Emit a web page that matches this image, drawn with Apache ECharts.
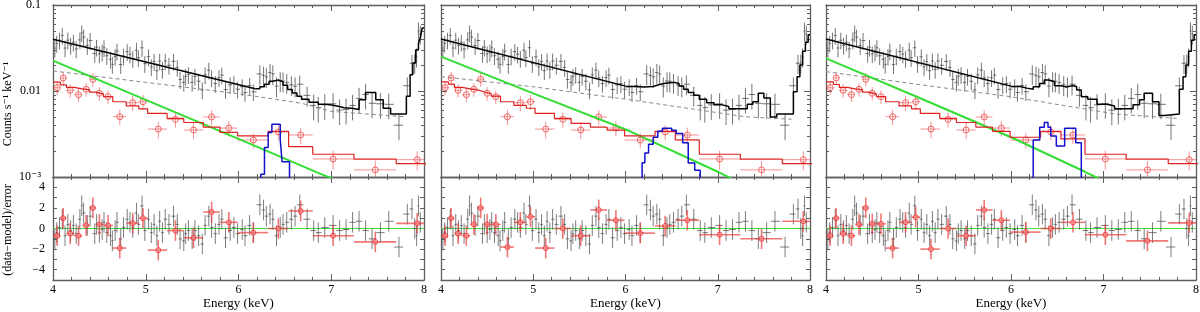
<!DOCTYPE html>
<html><head><meta charset="utf-8">
<script src="https://cdn.jsdelivr.net/npm/echarts@6/dist/echarts.min.js"></script>
<style>html,body{margin:0;padding:0;background:#fff}#c{width:1200px;height:312px}</style>
</head><body><div id="c"></div>
<script>
// ---------------- DATA ----------------
// Black data (shared by all three panels)
const blackE = [4.02,4.04,4.07,4.10,4.13,4.16,4.19,4.22,4.25,4.29,4.31,4.33,4.37,4.40,4.45,4.47,4.50,4.53,4.55,4.58,
4.62,4.64,4.67,4.69,4.73,4.76,4.80,4.83,4.86,4.90,4.92,4.96,4.99,5.03,5.06,5.09,5.12,5.15,5.18,5.21,
5.25,5.30,5.34,5.37,5.41,5.43,5.46,5.50,5.53,5.57,5.61,5.64,5.68,5.71,5.75,5.79,5.82,5.86,5.91,5.95,
5.99,6.04,6.07,6.12,6.16,6.23,6.27,6.30,6.34,6.37,6.41,6.45,6.48,6.52,6.57,6.61,6.66,6.74,6.81,6.86,
6.93,7.02,7.09,7.16,7.23,7.30,7.37,7.44,7.53,7.62,7.73,7.82,7.87,7.90,7.92,7.94,7.96];
const blackV = [0.0315,0.0358,0.0390,0.0443,0.0316,0.0390,0.0340,0.0369,0.0308,0.0393,0.0474,0.0423,0.0337,0.0387,0.0273,0.0323,0.0270,0.0282,0.0318,0.0257,
0.0234,0.0204,0.0252,0.0291,0.0203,0.0254,0.0287,0.0268,0.0239,0.0298,0.0244,0.0318,0.0208,0.0250,0.0191,0.0220,0.0172,0.0223,0.0178,0.0223,
0.0199,0.0221,0.0188,0.0136,0.0126,0.0148,0.0155,0.0126,0.0148,0.0130,0.0103,0.0154,0.0175,0.0142,0.0122,0.0143,0.0153,0.0104,0.0118,0.0122,
0.0105,0.0112,0.0096,0.0116,0.0098,0.0158,0.0152,0.0146,0.0164,0.0158,0.0114,0.0131,0.0130,0.0125,0.0118,0.0114,0.0120,0.0089,0.0068,0.0064,
0.0069,0.0071,0.0060,0.0061,0.0068,0.0082,0.0091,0.0072,0.0071,0.0070,0.0040,0.0115,0.0210,0.0212,0.0250,0.0500,0.0460];
const blackRes = [-1.0,-0.4,0.1,0.9,-0.7,0.4,-0.2,0.3,-0.5,0.9,2.2,1.5,0.3,1.2,-0.5,0.4,-0.4,-0.1,0.6,-0.4,
-0.7,-1.2,-0.2,0.6,-1.0,0.1,0.9,0.6,0.1,1.5,0.4,2.2,-0.2,0.9,-0.4,0.4,-0.7,0.7,-0.4,0.9,
0.4,1.2,0.4,-1.0,-1.2,-0.5,-0.2,-1.0,-0.2,-0.7,-1.5,0.3,1.2,0.1,-0.5,0.4,0.9,-0.9,-0.2,0.1,
-0.5,-0.1,-0.7,0.3,-0.4,2.3,1.8,1.2,1.4,0.9,-0.7,0.1,0.4,0.6,0.9,1.2,2.3,0.9,-0.2,-0.4,
0.1,0.3,-0.2,-0.1,0.6,0.7,-0.2,-1.0,-0.4,0.7,-1.8,1.4,1.9,0.0,-0.7,2.2,0.6];
// relative 1-sigma error of black points, by energy band [band start, rel err]
const blackRelErrBands = [[4.0,0.22],[6.2,0.26],[6.8,0.33],[7.8,0.25]];

// Red data (shared)
const redE = [4.045,4.11,4.185,4.275,4.357,4.43,4.50,4.594,4.72,4.86,4.97,5.135,5.32,5.515,5.71,5.896,6.16,6.43,6.67,7.02,7.475,7.927];
const redEdges = [4.0,4.08,4.145,4.23,4.315,4.395,4.465,4.545,4.645,4.79,4.925,5.02,5.23,5.41,5.62,5.80,5.99,6.32,6.54,6.80,7.245,7.70,8.15];
const redV = [0.01093,0.01416,0.01019,0.00906,0.01047,0.01368,0.0094,0.0086,0.00502,0.00731,0.00751,0.00361,0.00469,0.00352,0.00499,0.00371,0.00269,0.00334,0.00308,0.00162,0.00121,0.00159];
const redRelErr = [0.18,0.18,0.18,0.18,0.18,0.18,0.18,0.18,0.2,0.2,0.2,0.22,0.2,0.22,0.2,0.2,0.2,0.2,0.22,0.25,0.28,0.25];
const redRes1 = [-0.7,1.0,-0.5,-0.7,0.3,2.0,0.4,0.3,-1.9,0.5,1.0,-2.1,-0.2,-0.9,1.6,0.6,-0.4,0.0,1.7,-0.7,-1.3,0.5];
const redRes2 = [-0.7,1.0,-0.5,-0.7,0.4,2.0,0.4,0.4,-1.8,0.6,1.15,-1.9,0.0,-0.7,1.8,0.8,-0.45,0.25,0.8,-0.6,-1.0,0.7];
const redRes3 = [-0.7,1.0,-0.5,-0.7,0.4,2.0,0.45,0.45,-1.9,0.6,1.1,-2.0,0.0,-0.7,1.8,0.8,-0.35,0.0,0.6,-0.6,-1.2,0.55];

// Red model (value per red bin)
const redModel1 = [0.0127,0.0118,0.0110,0.0106,0.0103,0.0097,0.0092,0.0086,0.0075,0.0067,0.0062,0.0055,0.0048,0.0043,0.0038,0.0033,0.0030,0.0034,0.00225,0.00184,0.00161,0.00143];
const redModel2 = [0.0128,0.0120,0.0110,0.0106,0.0103,0.0098,0.0093,0.0087,0.0075,0.0068,0.0063,0.0055,0.0048,0.0042,0.0038,0.0035,0.0030,0.0034,0.0027,0.00184,0.00161,0.00143];
const redModel3 = [0.0128,0.0119,0.0110,0.0106,0.0103,0.0097,0.0092,0.0086,0.0075,0.0067,0.0062,0.0055,0.0048,0.0043,0.0038,0.0034,0.0029,0.0034,0.00277,0.00184,0.00161,0.00143];

// Black total model: smooth part + stepped part [E, value]
const blackModelLine1 = [[4.0,0.0399],[6.18,0.0106]];
const blackModelStep1 = [[6.18,0.0106],[6.23,0.0112],[6.28,0.0120],[6.33,0.0130],[6.37,0.0134],[6.43,0.0128],[6.48,0.0117],[6.53,0.0104],[6.58,0.0095],[6.63,0.0087],[6.68,0.0080],[6.76,0.0074],[6.86,0.0070],[6.96,0.0067],[7.06,0.0064],[7.14,0.0063],[7.22,0.0061],[7.30,0.0079],[7.37,0.0096],[7.48,0.0079],[7.56,0.0063],[7.64,0.0054],[7.81,0.0087],[7.85,0.0154],[7.88,0.0212],[7.91,0.0300],[7.94,0.0360],[7.96,0.0413],[7.98,0.0540],[8.0,0.0540]];
const blackModelLine2 = [[4.0,0.0402],[6.0,0.0114]];
const blackModelStep2 = [[6.0,0.0113],[6.1,0.0111],[6.2,0.0113],[6.3,0.0118],[6.36,0.0123],[6.43,0.0126],[6.53,0.0122],[6.58,0.0114],[6.63,0.0105],[6.68,0.0096],[6.74,0.0089],[6.80,0.0080],[6.88,0.0073],[6.96,0.0069],[7.05,0.0066],[7.12,0.0062],[7.22,0.0062],[7.32,0.0070],[7.38,0.0075],[7.44,0.0094],[7.50,0.0083],[7.57,0.0050],[7.64,0.0054],[7.82,0.0098],[7.86,0.0146],[7.89,0.0200],[7.92,0.0290],[7.95,0.0370],[7.98,0.0450],[8.0,0.0450]];
const blackModelLine3 = [[4.0,0.0402],[6.0,0.0114]];
const blackModelStep3 = [[6.0,0.0113],[6.1,0.0108],[6.17,0.0105],[6.24,0.0112],[6.31,0.0122],[6.36,0.0134],[6.41,0.0128],[6.47,0.0115],[6.54,0.0111],[6.60,0.0116],[6.67,0.0112],[6.71,0.0103],[6.76,0.0086],[6.83,0.0080],[6.93,0.0070],[7.04,0.0067],[7.12,0.0062],[7.24,0.0062],[7.32,0.0069],[7.39,0.0079],[7.44,0.0094],[7.53,0.0075],[7.60,0.0052],[7.66,0.0054],[7.82,0.0105],[7.86,0.0146],[7.89,0.0200],[7.92,0.0290],[7.95,0.0390],[7.98,0.0450],[8.0,0.0450]];

// Continuum (dashed)
const dashed1 = [[4.0,0.0171],[5.0,0.0126],[6.0,0.0093],[6.68,0.0072],[7.0,0.0058],[7.8,0.0050]];
const dashed2 = [[4.0,0.0147],[5.0,0.0112],[6.05,0.0079],[7.31,0.0050],[7.8,0.0047]];
const dashed3 = [[4.0,0.0168],[5.0,0.0119],[5.99,0.0086],[7.13,0.0054],[7.8,0.0048]];

// Power-law component (green)
const green1 = [[4.0,0.0226],[5.0,0.0079],[6.0,0.00277],[6.91,0.00106],[7.2,0.0008]];
const green2 = [[4.0,0.0251],[5.0,0.0094],[6.05,0.0034],[7.0,0.00115],[7.3,0.0008]];
const green3 = [[4.0,0.0240],[5.0,0.0084],[6.0,0.0029],[6.8,0.00115],[7.1,0.0008]];

// Line component (blue), stepped [left edge, value]
const blue1 = [[6.20,0.0008],[6.24,0.00108],[6.28,0.0022],[6.32,0.0033],[6.36,0.0041],[6.45,0.0027],[6.47,0.0015],[6.55,0.0008],[6.60,0.0008]];
const blue2 = [[6.15,0.0008],[6.18,0.00146],[6.21,0.0019],[6.25,0.0024],[6.30,0.0029],[6.35,0.0034],[6.40,0.0037],[6.50,0.0035],[6.55,0.0032],[6.62,0.0025],[6.68,0.00145],[6.75,0.0012],[6.81,0.0008],[6.85,0.0008]];
const blue3 = [[6.20,0.0008],[6.24,0.0027],[6.31,0.0038],[6.36,0.0043],[6.40,0.0038],[6.43,0.0030],[6.49,0.0023],[6.58,0.0037],[6.70,0.0025],[6.76,0.0008],[6.80,0.0008]];

// Axis ticks
const logMinorTickValues = [0.002,0.003,0.004,0.005,0.006,0.007,0.008,0.009,0.02,0.03,0.04,0.05,0.06,0.07,0.08,0.09];
const energyRange = [4, 8];
const resRange = [-5, 5];

// ---------------- LAYOUT ----------------
const panelLeft = [53, 441, 826];
const panelWidth = [371, 369, 370];
const TOP_Y = 5, TOP_H = 172, BOT_Y = 177, BOT_H = 103;
const AX = '#5e5e5e';
const FONT = 'Liberation Serif, "Times New Roman", "DejaVu Serif", serif';

const panelModels = [
  {line: blackModelLine1, step: blackModelStep1, dashed: dashed1, green: green1, blue: blue1, red: redModel1, redRes: redRes1},
  {line: blackModelLine2, step: blackModelStep2, dashed: dashed2, green: green2, blue: blue2, red: redModel2, redRes: redRes2},
  {line: blackModelLine3, step: blackModelStep3, dashed: dashed3, green: green3, blue: blue3, red: redModel3, redRes: redRes3}
];

function relErrBlack(e){ let r = blackRelErrBands[0][1]; for (const b of blackRelErrBands) if (e >= b[0]) r = b[1]; return r; }
const blackLo = blackE.map((e,i)=> i>0 ? (blackE[i-1]+e)/2 : e-(blackE[1]-blackE[0])/2);
const blackHi = blackE.map((e,i)=> i<blackE.length-1 ? (blackE[i+1]+e)/2 : e+(e-blackE[i-1])/2);

const blackTop = blackE.map((e,i)=>{ const s = blackV[i]*relErrBlack(e); return [e, blackV[i], blackLo[i], blackHi[i], blackV[i]-s, blackV[i]+s]; });
const redTop = redE.map((e,i)=>{ const s = redV[i]*redRelErr[i]; return [e, redV[i], redEdges[i], redEdges[i+1], redV[i]-s, redV[i]+s]; });
const blackBot = blackE.map((e,i)=>[e, blackRes[i], blackLo[i], blackHi[i], blackRes[i]-1, blackRes[i]+1]);

function errBar(color, width){
  return function(params, api){
    const x = api.value(0), y = api.value(1);
    const a = api.coord([api.value(2), y]), b = api.coord([api.value(3), y]);
    const c = api.coord([x, api.value(4)]), d = api.coord([x, api.value(5)]);
    return {type:'group', children:[
      {type:'line', shape:{x1:a[0],y1:a[1],x2:b[0],y2:b[1]}, style:{stroke:color, lineWidth:width}},
      {type:'line', shape:{x1:c[0],y1:c[1],x2:d[0],y2:d[1]}, style:{stroke:color, lineWidth:width}}
    ]};
  };
}

const grids = [], xAxes = [], yAxes = [], series = [];
function addX(g, pos, showLabel, name){
  xAxes.push({
    type:'value', gridIndex:g, position:pos, min:energyRange[0], max:energyRange[1], interval:1,
    axisLine:{show:true, onZero:false, lineStyle:{color:AX, width:1.3}},
    axisTick:{show:true, inside:true, length:6, lineStyle:{color:AX, width:1}},
    minorTick:{show:true, splitNumber:5, length:3, lineStyle:{color:AX, width:1}},
    splitLine:{show:false}, minorSplitLine:{show:false},
    axisLabel:{show:showLabel, margin:4, color:'#000', fontFamily:FONT, fontSize:12},
    name: name || '', nameLocation:'middle', nameGap:17,
    nameTextStyle:{color:'#000', fontFamily:FONT, fontSize:13}
  });
  return xAxes.length-1;
}
function addLogY(g, pos, showLabel){
  yAxes.push({
    type:'log', logBase:10, gridIndex:g, position:pos, min:0.001, max:0.1,
    axisLine:{show:true, onZero:false, lineStyle:{color:AX, width:1.3}},
    axisTick:{show:true, inside:true, length:6, lineStyle:{color:AX}},
    minorTick:{show:false}, splitLine:{show:false},
    axisLabel:{show:showLabel, margin:12, color:'#000', fontFamily:FONT, fontSize:12,
      formatter:(v)=>{ const k = Math.round(Math.log10(v)); return k===-1 ? '0.1' : k===-2 ? '0.01' : '10\u207B\u00B3'; }}
  });
  return yAxes.length-1;
}
function addMinorY(g, pos){
  yAxes.push({
    type:'value', gridIndex:g, position:pos, min:-3, max:-1,
    axisLine:{show:false}, splitLine:{show:false}, axisLabel:{show:false},
    axisTick:{show:true, inside:true, length:3, lineStyle:{color:AX},
      customValues: logMinorTickValues.map(v=>Math.log10(v))}
  });
  return yAxes.length-1;
}
function addResY(g, pos, showLabel){
  yAxes.push({
    type:'value', gridIndex:g, position:pos, min:resRange[0], max:resRange[1], interval:1,
    axisLine:{show:true, onZero:false, lineStyle:{color:AX, width:1.3}},
    axisTick:{show:true, inside:true, length:4, lineStyle:{color:AX}},
    splitLine:{show:false},
    axisLabel:{show:showLabel, margin:8, color:'#000', fontFamily:FONT, fontSize:12,
      formatter:(v)=> (v%2===0 && Math.abs(v)<5) ? (v<0 ? '\u2212'+(-v) : String(v)) : ''}
  });
  return yAxes.length-1;
}
function stepData(edges, vals){
  const d = vals.map((v,i)=>[edges[i], v]);
  d.push([edges[edges.length-1], vals[vals.length-1]]);
  return d;
}

for (let p=0; p<3; p++){
  const m = panelModels[p];
  const gT = grids.length; grids.push({left:panelLeft[p], top:TOP_Y, width:panelWidth[p], height:TOP_H, containLabel:false, outerBoundsMode:'none'});
  const gB = grids.length; grids.push({left:panelLeft[p], top:BOT_Y, width:panelWidth[p], height:BOT_H, containLabel:false, outerBoundsMode:'none'});
  const xT = addX(gT,'bottom',false); addX(gT,'top',false);
  const xB = addX(gB,'bottom',true,'Energy (keV)'); addX(gB,'top',false);
  const yT = addLogY(gT,'left',p===0); addLogY(gT,'right',false); addMinorY(gT,'left'); addMinorY(gT,'right');
  const yB = addResY(gB,'left',p===0); addResY(gB,'right',false);

  // top panel
  series.push({type:'custom', xAxisIndex:xT, yAxisIndex:yT, clip:true, data:blackTop, renderItem:errBar('rgba(70,70,70,0.75)',1), z:2});
  series.push({type:'custom', xAxisIndex:xT, yAxisIndex:yT, clip:true, data:redTop, renderItem:errBar('rgba(240,90,90,0.65)',1), z:2});
  series.push({type:'scatter', xAxisIndex:xT, yAxisIndex:yT, clip:true, data:redE.map((e,i)=>[e, redV[i]]), symbol:'circle', symbolSize:6,
    itemStyle:{color:'rgba(255,255,255,0)', borderColor:'#ee4444', borderWidth:1}, z:3});
  series.push({type:'line', xAxisIndex:xT, yAxisIndex:yT, data:m.dashed, symbol:'none', lineStyle:{color:'#8a8a8a', width:1, type:[4,3]}, z:3});
  series.push({type:'line', xAxisIndex:xT, yAxisIndex:yT, data:m.green, symbol:'none', lineStyle:{color:'#33dd33', width:2}, z:4});
  series.push({type:'line', xAxisIndex:xT, yAxisIndex:yT, data:stepData(redEdges, m.red), step:'end', symbol:'none', lineStyle:{color:'#dd2222', width:1.2}, z:4});
  series.push({type:'line', xAxisIndex:xT, yAxisIndex:yT, data:m.blue, step:'end', symbol:'none', lineStyle:{color:'#1111cc', width:1.5}, z:5});
  series.push({type:'line', xAxisIndex:xT, yAxisIndex:yT, data:m.line, symbol:'none', lineStyle:{color:'#000', width:1.5}, z:6});
  series.push({type:'line', xAxisIndex:xT, yAxisIndex:yT, data:m.step, step:'end', symbol:'none', lineStyle:{color:'#000', width:1.5}, z:6});

  // residual panel
  series.push({type:'line', xAxisIndex:xB, yAxisIndex:yB, data:[[4,0],[8,0]], symbol:'none', lineStyle:{color:'#44dd44', width:1.2}, z:2});
  series.push({type:'custom', xAxisIndex:xB, yAxisIndex:yB, clip:true, data:blackBot, renderItem:errBar('rgba(70,70,70,0.7)',1), z:3});
  const redBot = redE.map((e,i)=>[e, m.redRes[i], redEdges[i], redEdges[i+1], m.redRes[i]-1, m.redRes[i]+1]);
  series.push({type:'custom', xAxisIndex:xB, yAxisIndex:yB, clip:true, data:redBot, renderItem:errBar('rgba(235,60,60,0.7)',1.6), z:4});
  series.push({type:'scatter', xAxisIndex:xB, yAxisIndex:yB, clip:true, data:redE.map((e,i)=>[e, m.redRes[i]]), symbol:'circle', symbolSize:5,
    itemStyle:{color:'rgba(255,150,150,0.6)', borderColor:'#e33', borderWidth:1}, z:5});
}

const chart = echarts.init(document.getElementById('c'));
chart.setOption({
  animation:false,
  backgroundColor:'#fff',
  grid:grids, xAxis:xAxes, yAxis:yAxes, series:series,
  graphic:[
    {type:'text', x:8, y:104, rotation:Math.PI/2,
      style:{text:'Counts s\u207B\u00B9 keV\u207B\u00B9', fill:'#000', font:'12px '+FONT, textAlign:'center', textVerticalAlign:'middle', align:'center', verticalAlign:'middle'}},
    {type:'text', x:8, y:230, rotation:Math.PI/2,
      style:{text:'(data\u2212model)/error', fill:'#000', font:'12px '+FONT, textAlign:'center', textVerticalAlign:'middle', align:'center', verticalAlign:'middle'}}
  ]
});
</script></body></html>
